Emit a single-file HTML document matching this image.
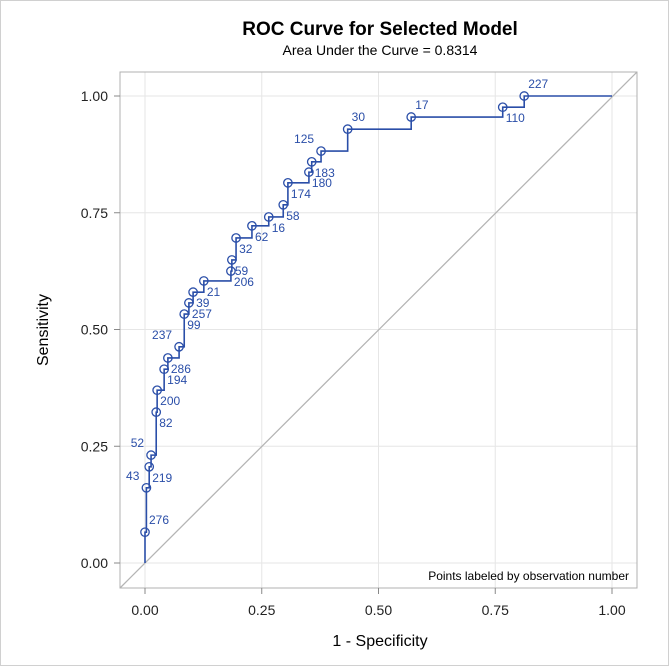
<!DOCTYPE html>
<html><head><meta charset="utf-8"><style>
html,body{margin:0;padding:0;background:#fff;}
svg{display:block;font-family:"Liberation Sans",Arial,sans-serif;}
</style></head><body>
<svg id="chart" width="672" height="667" viewBox="0 0 672 667">
<rect x="0.5" y="0.5" width="668" height="665" fill="#fff" stroke="#d0d0d0"/>
<text x="380" y="35" text-anchor="middle" font-size="19" font-weight="bold" fill="#000">ROC Curve for Selected Model</text>
<text x="380" y="55" text-anchor="middle" font-size="14" fill="#000">Area Under the Curve = 0.8314</text>
<g id="grid"></g>
<line x1="120" y1="588" x2="637" y2="72" stroke="#b4b4b4" stroke-width="1.3"/>
<g id="curve"></g>
<rect x="120" y="72" width="517" height="516" fill="none" stroke="#b0b0b0"/>
<g id="axes"></g>
<text x="629" y="580" text-anchor="end" font-size="12" fill="#000">Points labeled by observation number</text>
<text x="380" y="646" text-anchor="middle" font-size="16" fill="#000">1 - Specificity</text>
<text transform="translate(48,330) rotate(-90)" text-anchor="middle" font-size="16" fill="#000">Sensitivity</text>
</svg>
<script>
const obsLabels=["276","43","219","52","82","200","194","286","237","99","257","39","21","206","59","32","62","16","58","174","180","183","125","30","17","110","227"];
const fpr=[0,0.003,0.009,0.013,0.024,0.026,0.041,0.049,0.073,0.084,0.094,0.103,0.126,0.184,0.186,0.195,0.229,0.265,0.296,0.306,0.351,0.357,0.377,0.434,0.570,0.766,0.812];
const tpr=[0.066,0.161,0.206,0.231,0.323,0.370,0.415,0.439,0.463,0.533,0.557,0.580,0.604,0.625,0.649,0.696,0.722,0.741,0.767,0.814,0.837,0.859,0.882,0.929,0.955,0.976,1.0];
const labelSide=["ra","la","rb","la","rb","rb","rb","rb","la","rb","rb","rb","rb","rb","rb","rb","rb","rb","rb","rb","rb","rb","la","ra","ra","rb","ra"];
const ticks=[0,0.25,0.5,0.75,1];
const tickLabels=["0.00","0.25","0.50","0.75","1.00"];
const NS="http://www.w3.org/2000/svg";
const X=v=>145+v*467, Y=v=>563-v*467;
function mk(t,a,p){const e=document.createElementNS(NS,t);for(const k in a)e.setAttribute(k,a[k]);p.appendChild(e);return e;}
const grid=document.getElementById('grid'),axes=document.getElementById('axes'),curve=document.getElementById('curve');
ticks.forEach((t,i)=>{
 let g=mk('line',{x1:X(t),x2:X(t),y1:72,y2:588,stroke:'#e6e6e6'},grid);
 
 
 g=mk('line',{x1:120,x2:637,y1:Y(t),y2:Y(t),stroke:'#e6e6e6'},grid);
 
 
 let tk=mk('line',{x1:X(t),x2:X(t),y1:588,y2:594,stroke:'#888'},axes);
 
 
 tk=mk('line',{x1:114,x2:120,y1:Y(t),y2:Y(t),stroke:'#888'},axes);
 
 
 let tx=mk('text',{x:X(t),y:615,'text-anchor':'middle','font-size':14,fill:'#222'},axes);
 tx.textContent=tickLabels[i];
 
 
 tx=mk('text',{x:108,y:Y(t)+5,'text-anchor':'end','font-size':14,fill:'#222'},axes);
 tx.textContent=tickLabels[i];
 
 
});
let d='M'+X(0)+' '+Y(0);
for(let i=0;i<fpr.length;i++){d+=' H'+X(fpr[i])+' V'+Y(tpr[i]);}
d+=' H'+X(1);
const p=mk('path',{d:d,fill:'none',stroke:'#2a4ea8','stroke-width':1.6},curve);


for(let i=0;i<fpr.length;i++){
 const cx=X(fpr[i]),cy=Y(tpr[i]);
 const c=mk('circle',{cx:cx,cy:cy,r:4.2,fill:'none',stroke:'#2a4ea8','stroke-width':1.3},curve);
 
 
 const s=labelSide[i];let a;
 if(s==='rb')a={x:cx+3,y:cy+15,'text-anchor':'start'};
 else if(s==='ra')a={x:cx+4,y:cy-8,'text-anchor':'start'};
 else a={x:cx-7,y:cy-8,'text-anchor':'end'};
 a['font-size']=12;a.fill='#2a4ea8';
 const t=mk('text',a,curve);t.textContent=obsLabels[i];
 
 
}
</script>
</body></html>
